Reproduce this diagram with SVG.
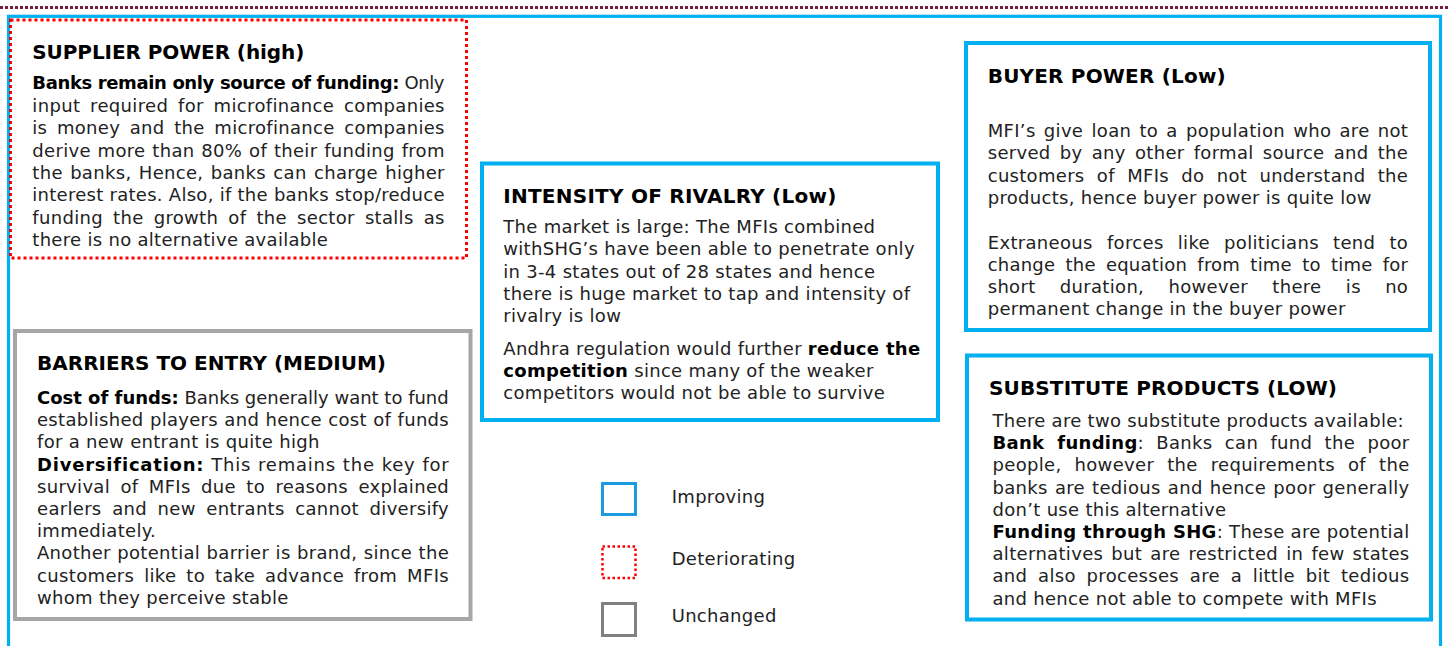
<svg xmlns="http://www.w3.org/2000/svg" width="1450" height="646" viewBox="0 0 1450 646">
  <style>
    text { font-family: "DejaVu Sans", Verdana, sans-serif; }
    .body { font-size: 18px; fill: #222222; letter-spacing: 0.3px; }
    .title { font-size: 20px; font-weight: 700; fill: #000000; }
    .b { font-weight: 700; fill: #000000; }
    .m { font-weight: 700; fill: #000000; }
    .improving { fill: none; stroke: #00b0f0; stroke-width: 4; }
    .deteriorating { fill: none; stroke: #ff0000; stroke-width: 3; stroke-dasharray: 3 3; }
    .unchanged { fill: none; stroke: #a6a6a6; stroke-width: 4; }
  </style>

  <rect width="1450" height="646" fill="#ffffff"/>

  <!-- page frame -->
  <g id="frame">
    <line x1="0" y1="7.5" x2="1450" y2="7.5" stroke="#7a1c3e" stroke-width="3" stroke-dasharray="3 2"/>
    <rect x="8.5" y="16.3" width="1432" height="700" fill="none" stroke="#00b0f0" stroke-width="3.2"/>
  </g>

  <!-- forces -->
  <g id="supplier-power">
    <rect class="deteriorating" x="10.5" y="20" width="456" height="238"/>
    <text class="title" x="32.3" y="58.5" textLength="272">SUPPLIER POWER (high)</text>
    <g class="body">
      <text x="32.3" y="89.3" textLength="412.5"><tspan class="b">Banks remain only source of funding:</tspan> Only</text>
      <text x="32.3" y="111.7" textLength="412.5" word-spacing="3.8">input required for microfinance companies</text>
      <text x="32.3" y="134.1" textLength="412.5" word-spacing="3.6">is money and the microfinance companies</text>
      <text x="32.3" y="156.5" textLength="412.5" word-spacing="0.8">derive more than 80% of their funding from</text>
      <text x="32.3" y="178.9" textLength="412.5" word-spacing="1.3">the banks, Hence, banks can charge higher</text>
      <text x="32.3" y="201.3" textLength="412.5">interest rates. Also, if the banks stop/reduce</text>
      <text x="32.3" y="223.7" textLength="412.5" word-spacing="4.1">funding the growth of the sector stalls as</text>
      <text x="32.3" y="246.1">there is no alternative available</text>
    </g>
  </g>

  <g id="barriers-to-entry">
    <rect class="unchanged" x="15" y="331" width="455.5" height="288"/>
    <text class="title" x="37" y="369.7" textLength="349">BARRIERS TO ENTRY (MEDIUM)</text>
    <g class="body">
      <text x="37" y="404" textLength="412"><tspan class="b">Cost of funds:</tspan> Banks generally want to fund</text>
      <text x="37" y="426.2" textLength="412" word-spacing="0.4">established players and hence cost of funds</text>
      <text x="37" y="448.4">for a new entrant is quite high</text>
      <text x="37" y="470.6" textLength="412" word-spacing="0.4"><tspan class="b">Diversification:</tspan> This remains the key for</text>
      <text x="37" y="492.8" textLength="412" word-spacing="4.4">survival of MFIs due to reasons explained</text>
      <text x="37" y="515" textLength="412" word-spacing="4.6">earlers and new entrants cannot diversify</text>
      <text x="37" y="537.2">immediately.</text>
      <text x="37" y="559.4" textLength="412" word-spacing="0.45">Another potential barrier is brand, since the</text>
      <text x="37" y="581.6" textLength="412" word-spacing="3.8">customers like to take advance from MFIs</text>
      <text x="37" y="603.8">whom they perceive stable</text>
    </g>
  </g>

  <g id="intensity-of-rivalry">
    <rect class="improving" x="482" y="163.5" width="456" height="256.5"/>
    <text class="title" x="503.3" y="203" textLength="333">INTENSITY OF RIVALRY (Low)</text>
    <g class="body">
      <text x="503.3" y="233">The market is large: The MFIs combined</text>
      <text x="503.3" y="255.3">withSHG’s have been able to penetrate only</text>
      <text x="503.3" y="277.6">in 3-4 states out of 28 states and hence</text>
      <text x="503.3" y="299.9">there is huge market to tap and intensity of</text>
      <text x="503.3" y="322.2">rivalry is low</text>
      <text x="503.3" y="355">Andhra regulation would further <tspan class="m">reduce the</tspan></text>
      <text x="503.3" y="377.2"><tspan class="m">competition</tspan> since many of the weaker</text>
      <text x="503.3" y="399.4">competitors would not be able to survive</text>
    </g>
  </g>

  <g id="buyer-power">
    <rect class="improving" x="966" y="43" width="464" height="287"/>
    <text class="title" x="987.7" y="83" textLength="238">BUYER POWER (Low)</text>
    <g class="body">
      <text x="987.7" y="137" textLength="420.5" word-spacing="2.15">MFI’s give loan to a population who are not</text>
      <text x="987.7" y="159.3" textLength="420.5" word-spacing="3.15">served by any other formal source and the</text>
      <text x="987.7" y="181.6" textLength="420.5" word-spacing="6.35">customers of MFIs do not understand the</text>
      <text x="987.7" y="203.9">products, hence buyer power is quite low</text>
      <text x="987.7" y="248.5" textLength="420.5" word-spacing="8.1">Extraneous forces like politicians tend to</text>
      <text x="987.7" y="270.8" textLength="420.5" word-spacing="4.35">change the equation from time to time for</text>
      <text x="987.7" y="293.1" textLength="420.5" word-spacing="18.3">short duration, however there is no</text>
      <text x="987.7" y="315.4">permanent change in the buyer power</text>
    </g>
  </g>

  <g id="substitute-products">
    <rect class="improving" x="967" y="355.5" width="464" height="264"/>
    <text class="title" x="989" y="395" textLength="348">SUBSTITUTE PRODUCTS (LOW)</text>
    <g class="body">
      <text x="992.5" y="427">There are two substitute products available:</text>
      <text x="992.5" y="449.2" textLength="417" word-spacing="6.35"><tspan class="m">Bank funding</tspan>: Banks can fund the poor</text>
      <text x="992.5" y="471.4" textLength="417" word-spacing="6.95">people, however the requirements of the</text>
      <text x="992.5" y="493.6" textLength="417" word-spacing="1.1">banks are tedious and hence poor generally</text>
      <text x="992.5" y="515.8">don’t use this alternative</text>
      <text x="992.5" y="538" textLength="417"><tspan class="m">Funding through SHG</tspan>: These are potential</text>
      <text x="992.5" y="560.2" textLength="417" word-spacing="2.05">alternatives but are restricted in few states</text>
      <text x="992.5" y="582.4" textLength="417" word-spacing="4.75">and also processes are a little bit tedious</text>
      <text x="992.5" y="604.6">and hence not able to compete with MFIs</text>
    </g>
  </g>

  <!-- key -->
  <g id="legend-improving">
    <rect x="602.5" y="483.5" width="33" height="31" fill="none" stroke="#1e9be0" stroke-width="3"/>
    <text class="body" x="671.7" y="503">Improving</text>
  </g>
  <g id="legend-deteriorating">
    <rect x="602.5" y="546.5" width="33" height="31.5" fill="none" stroke="#ff0000" stroke-width="2.5" stroke-dasharray="2.5 2.5"/>
    <text class="body" x="671.7" y="565">Deteriorating</text>
  </g>
  <g id="legend-unchanged">
    <rect x="602.5" y="603.5" width="33" height="32" fill="none" stroke="#808080" stroke-width="3"/>
    <text class="body" x="671.7" y="622">Unchanged</text>
  </g>

  <g id="connectors"/>
</svg>
